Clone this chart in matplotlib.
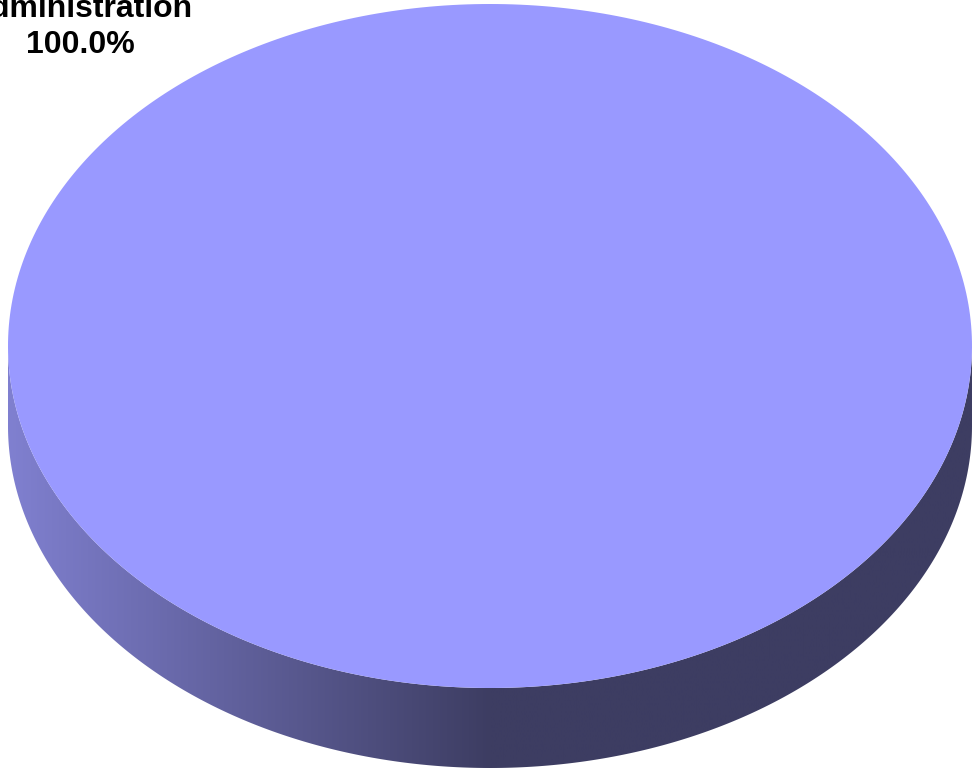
import matplotlib
matplotlib.use("Agg")
import matplotlib.pyplot as plt
import numpy as np
from matplotlib.path import Path
from matplotlib.patches import PathPatch

# pie data
labels = ["Administration"]
values = [100.0]
colors = ["#9999ff"]

W, H = 972, 773
fig = plt.figure(figsize=(W / 100, H / 100), dpi=100)
ax = fig.add_axes([0, 0, 1, 1])
ax.set_xlim(0, W)
ax.set_ylim(H, 0)
ax.axis("off")

# ellipse geometry of the top face and the thickness of the disc
cx, cy, rx, ry, depth = 490, 346, 482, 342, 80


def ellipse_pts(t0, t1, dy=0, n=400):
    t = np.linspace(t0, t1, n)
    return np.column_stack([cx + rx * np.cos(t), cy + ry * np.sin(t) + dy])


# side wall: front half of the ellipse, extruded down
front = ellipse_pts(0, np.pi)
side = np.vstack([front, ellipse_pts(np.pi, 0, depth)])
side_path = Path(np.vstack([side, side[:1]]), closed=True)

# horizontal shading of the wall, lighter on the left
xs = np.linspace(0, W, 600)
f = np.clip((xs - (cx - rx)) / rx, 0, 1)
light = np.array([128, 128, 208]) / 255
dark = np.array([61, 61, 98]) / 255
grad = light[None, :] * (1 - f[:, None]) + dark[None, :] * f[:, None]
img = ax.imshow(grad[None, :, :], extent=[0, W, cy + ry + depth, cy - 10],
                aspect="auto", zorder=1)
img.set_clip_path(PathPatch(side_path, transform=ax.transData))

# top faces, one wedge per value
total = sum(values)
start = -np.pi / 2
for lab, val, col in zip(labels, values, colors):
    span = 2 * np.pi * val / total
    pts = ellipse_pts(start, start + span)
    if val < total:
        pts = np.vstack([[cx, cy], pts, [cx, cy]])
    ax.add_patch(PathPatch(Path(pts, closed=True), facecolor=col,
                           edgecolor="none", zorder=2))
    start += span

    ax.text(80, 27, "{}\n{:.1f}%".format(lab, 100 * val / total),
            ha="center", va="center", fontsize=23, fontweight="bold",
            family="Liberation Sans", linespacing=1.3, zorder=3)

fig.savefig("out.png", dpi=100)
